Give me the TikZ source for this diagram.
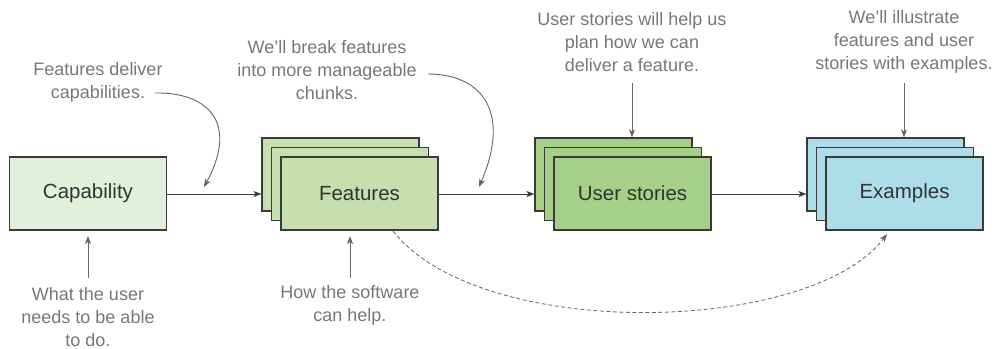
\documentclass[tikz,border=0pt]{standalone}
\usepackage{fontspec}
\setmainfont{Liberation Sans}
\usetikzlibrary{arrows.meta}
\definecolor{cap}{HTML}{E2EFD9}
\definecolor{feat}{HTML}{C5DFAF}
\definecolor{story}{HTML}{A6D088}
\definecolor{exam}{HTML}{ADDDE8}
\definecolor{border}{HTML}{3A3A3A}
\definecolor{note}{HTML}{777777}
\definecolor{notearrow}{HTML}{666666}
\tikzset{
  box/.style={draw=border, line width=1.1pt, minimum width=157pt, minimum height=73pt, inner sep=0pt, text=black!80, font=\fontsize{20.5}{24}\selectfont},
  notetext/.style={text=note, align=center, font=\fontsize{18}{22.7}\selectfont, inner sep=0pt},
  mainarrow/.style={draw=border, line width=0.9pt, -{Stealth[length=8pt,width=6pt,inset=2pt]}},
  notearrow/.style={draw=notearrow, line width=0.9pt, -{Stealth[length=8pt,width=6pt,inset=2pt]}},
  dasharrow/.style={draw=notearrow, line width=0.8pt, dash pattern=on 4pt off 2.5pt, -{Stealth[length=8pt,width=6pt,inset=2pt]}}
}
\begin{document}
\begin{tikzpicture}[x=1pt,y=-1pt]
\useasboundingbox (0,0) rectangle (998,348);
% Capability
\node[box, fill=cap] (capab) at (88,193.5) {Capability};
% Features stack
\node[box, fill=feat] (featA) at (340.5,174.5) {};
\node[box, fill=feat] (featB) at (350,184) {};
\node[box, fill=feat] (feat) at (359.5,193.5) {Features};
% User stories stack
\node[box, fill=story] (storyA) at (613.5,174.5) {};
\node[box, fill=story] (storyB) at (623,184) {};
\node[box, fill=story] (story) at (632.5,193.5) {User stories};
% Examples stack
\node[box, fill=exam] (examA) at (885.5,174.5) {};
\node[box, fill=exam] (examB) at (895,184) {};
\node[box, fill=exam] (exam) at (904.5,193.5) {Examples};
% main arrows
\draw[mainarrow] (capab.east |- 0,194) -- (featA.west |- 0,194);
\draw[mainarrow] (feat.east |- 0,194) -- (storyA.west |- 0,194);
\draw[mainarrow] (story.east |- 0,194) -- (examA.west |- 0,194);
% notes
\node[notetext] (n1) at (98,82) {Features deliver\\capabilities.};
\coordinate (n1s) at (155,93);
\coordinate (n1e) at (204,187);
\draw[notearrow] (n1s) .. controls (205,92) and (240,120) .. (n1e);
\node[notetext] (n2) at (327,70) {We’ll break features\\into more manageable\\chunks.};
\coordinate (n2s) at (428,74);
\coordinate (n2e) at (479,187);
\draw[notearrow] (n2s) .. controls (480,74) and (512,110) .. (n2e);
\node[notetext] (n3) at (632,42) {User stories will help us\\plan how we can\\deliver a feature.};
\coordinate (n3s) at (632,83);
\draw[notearrow] (n3s) -- (storyA.north -| n3s);
\node[notetext] (n4) at (904,42) {We’ll illustrate\\features and user\\stories with examples.};
\coordinate (n4s) at (904,83);
\draw[notearrow] (n4s) -- (examA.north -| n4s);
\node[notetext] (n5) at (88,317) {What the user\\needs to be able\\to do.};
\coordinate (n5s) at (88,278);
\coordinate (n5e) at (88,236);
\draw[notearrow] (n5s) -- (n5e);
\node[notetext] (n6) at (350,305.5) {How the software\\can help.};
\coordinate (n6s) at (350,278);
\coordinate (n6e) at (350,236);
\draw[notearrow] (n6s) -- (n6e);
% dashed
\coordinate (d1) at (393,231);
\coordinate (d2) at (887,234);
\draw[dasharrow] (d1) .. controls (480,342) and (810,335) .. (d2);
\end{tikzpicture}
\end{document}
